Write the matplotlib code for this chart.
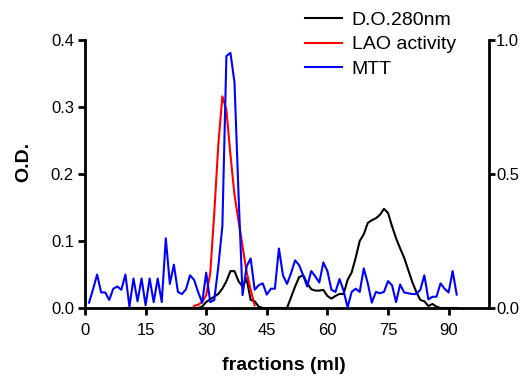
import matplotlib
matplotlib.use("Agg")
import matplotlib.pyplot as plt
from matplotlib.ticker import FixedLocator, FormatStrFormatter

plt.rcParams['font.family'] = ['Liberation Sans', 'DejaVu Sans']

# ---- data ----
od_fractions = list(range(10, 93))
od_values = [0.0] * 19 + [
    0.002, 0.009, 0.013, 0.017, 0.021, 0.029, 0.040, 0.055, 0.055, 0.040,   # 29-38
    0.032, 0.044, 0.012, 0.010, 0.002, 0.0, 0.0, 0.0, 0.0, 0.0,             # 39-48
    0.0, 0.0, 0.016, 0.032, 0.046, 0.049, 0.037, 0.028, 0.026, 0.026,       # 49-58
    0.027, 0.018, 0.014, 0.018, 0.021, 0.021, 0.042, 0.053, 0.075, 0.100,   # 59-68
    0.110, 0.127, 0.131, 0.134, 0.139, 0.148, 0.142, 0.122, 0.104, 0.089,   # 69-78
    0.075, 0.057, 0.039, 0.024, 0.012, 0.010, 0.003, 0.006, 0.002, 0.0,     # 79-88
    0.0, 0.0, 0.0, 0.0,                                                     # 89-92
]

lao_fractions = list(range(27, 43))
lao_values = [0.008, 0.012, 0.022, 0.048, 0.13, 0.355, 0.61, 0.79, 0.738,
              0.572, 0.422, 0.325, 0.23, 0.135, 0.068, 0.01]

mtt_fractions = list(range(1, 93))
mtt_values = [
    0.02, 0.07, 0.125, 0.058, 0.058, 0.03, 0.072, 0.08, 0.068, 0.125,       # 1-10
    0.005, 0.11, 0.025, 0.11, 0.01, 0.11, 0.022, 0.11, 0.022, 0.26,         # 11-20
    0.09, 0.162, 0.06, 0.052, 0.07, 0.122, 0.105, 0.06, 0.02, 0.132,        # 21-30
    0.022, 0.03, 0.155, 0.305, 0.94, 0.952, 0.842, 0.425, 0.048, 0.155,     # 31-40
    0.185, 0.068, 0.085, 0.092, 0.05, 0.072, 0.072, 0.222, 0.122, 0.09,     # 41-50
    0.13, 0.178, 0.16, 0.122, 0.08, 0.138, 0.118, 0.095, 0.17, 0.138,       # 51-60
    0.068, 0.06, 0.108, 0.065, 0.002, 0.06, 0.072, 0.06, 0.148, 0.092,      # 61-70
    0.02, 0.06, 0.055, 0.06, 0.1, 0.085, 0.022, 0.088, 0.058, 0.055,        # 71-80
    0.052, 0.052, 0.068, 0.122, 0.032, 0.042, 0.042, 0.092, 0.072, 0.058,   # 81-90
    0.138, 0.05,                                                            # 91-92
]

x_ticks = [0, 15, 30, 45, 60, 75, 90]
left_ticks = [0.0, 0.1, 0.2, 0.3, 0.4]
right_ticks = [0.0, 0.5, 1.0]

W, H = 528, 377
fig = plt.figure(figsize=(W / 100, H / 100), dpi=100)
ax = fig.add_axes([85 / W, 1 - 308 / H, (489 - 85) / W, (308 - 40) / H])
ax2 = ax.twinx()

lw = 1.5
l1, = ax.plot(od_fractions, od_values, color='black', lw=lw, clip_on=False, label='D.O.280nm')
l2, = ax2.plot(lao_fractions, lao_values, color='#ff0000', lw=lw, clip_on=False, label='LAO activity')
l3, = ax2.plot(mtt_fractions, mtt_values, color='#0000ff', lw=lw, clip_on=False, label='MTT')

ax.set_xlim(0, 100)
ax.set_ylim(0, 0.4)
ax2.set_ylim(0, 1.0)

ax.xaxis.set_major_locator(FixedLocator(x_ticks))
ax.yaxis.set_major_locator(FixedLocator(left_ticks))
ax2.yaxis.set_major_locator(FixedLocator(right_ticks))
ax.yaxis.set_major_formatter(FormatStrFormatter('%.1f'))
ax2.yaxis.set_major_formatter(FormatStrFormatter('%.1f'))

spw = 2.0
for a in (ax, ax2):
    a.spines['top'].set_visible(False)
    for s in ('left', 'right', 'bottom'):
        a.spines[s].set_linewidth(spw)
ax.spines['right'].set_visible(False)
ax2.spines['left'].set_visible(False)
ax2.spines['bottom'].set_visible(False)

ax.tick_params(axis='both', direction='out', length=5, width=spw, labelsize=12, colors='black')
ax.tick_params(axis='x', pad=6)
ax.tick_params(axis='y', pad=3)
ax2.tick_params(axis='y', direction='out', length=4, width=spw, labelsize=12, pad=1)

fig.text(23.5 / W, 1 - 162 / H, 'O.D.', rotation=90, fontsize=14, fontweight='bold',
         ha='center', va='center')
fig.text(283.5 / W, 1 - 370 / H, 'fractions (ml)', fontsize=14, fontweight='bold',
         ha='center', va='baseline')

fig.legend(handles=[l1, l2, l3], loc='upper left', bbox_to_anchor=(305 / W, 1 - 11 / H),
           frameon=False, fontsize=14, borderpad=0, borderaxespad=0,
           handlelength=1.9, handletextpad=0.5, labelspacing=0.37)

fig.savefig('out.png', dpi=100)
